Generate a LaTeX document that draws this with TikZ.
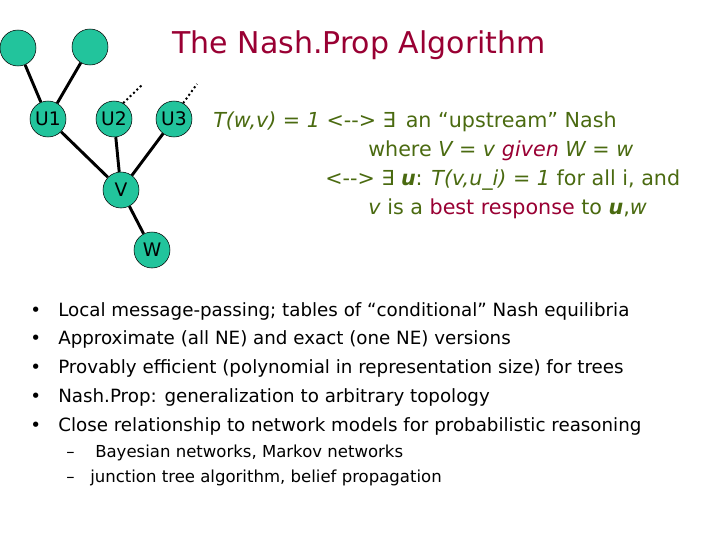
\documentclass[tikz,border=0pt]{standalone}
\usepackage{fontspec}
\setmainfont{DejaVu Sans}
\begin{document}
\begin{tikzpicture}[x=0.75pt,y=-0.75pt,
  nd/.style={circle,draw=black,fill=nodeg,minimum size=27pt,inner sep=0pt,font=\fontsize{14}{16}\selectfont},
  ed/.style={line width=2.2pt},
  dt/.style={line width=1.5pt,dotted},
  gt/.style={anchor=base west,text=txtg,font=\fontsize{15.5}{18}\selectfont,inner sep=0pt},
  bt/.style={anchor=base west,font=\fontsize{13.7}{16}\selectfont,inner sep=0pt},
  st/.style={anchor=base west,font=\fontsize{12.4}{14}\selectfont,inner sep=0pt}]
\definecolor{nodeg}{HTML}{22C49C}
\definecolor{txtg}{HTML}{4A6A10}
\definecolor{dred}{HTML}{990033}
\useasboundingbox (0,0) rectangle (720,540);
\node[nd] (a) at (18,48) {};
\node[nd] (b) at (90,47) {};
\node[nd] (u1) at (48,119) {U1};
\node[nd] (u2) at (114,119) {U2};
\node[nd] (u3) at (174,119) {U3};
\node[nd] (v) at (121,190) {V};
\node[nd] (w) at (152,250) {W};
\draw[ed] (a) -- (u1); \draw[ed] (b) -- (u1);
\draw[ed] (u1) -- (v); \draw[ed] (u2) -- (v); \draw[ed] (u3) -- (v); \draw[ed] (v) -- (w);
\coordinate (d2) at (143,84); \coordinate (d3) at (197,84);
\draw[dt] (u2.60) -- (d2); \draw[dt] (u3.60) -- (d3);
\node[text=dred,font=\fontsize{22.5}{26}\selectfont] (title) at (359,45) {The Nash.Prop Algorithm};
\node[gt] (l1) at (213,127) {\textit{T(w,v) = 1} <-{}-{}> ∃ \,an “upstream” Nash};
\node[gt] (l2) at (368,156) {where \textit{V = v} \textcolor{dred}{\textit{given}} \textit{W = w}};
\node[gt] (l3) at (325,185) {<-{}-{}> ∃ \textbf{\textit{u}}: \textit{T(v,u\_i) = 1} for all i, and};
\node[gt] (l4) at (368,214) {\textit{v} is a \textcolor{dred}{best response} to \textbf{\textit{u}},\textit{w}};
\foreach \y/\t [count=\i] in {316/Local message-passing; tables of “conditional” Nash equilibria,
  344/Approximate (all NE) and exact (one NE) versions,
  373/Provably efficient (polynomial in representation size) for trees,
  402/Nash.Prop: generalization to arbitrary topology,
  431/Close relationship to network models for probabilistic reasoning}{
  \node[bt] (m\i) at (30,\y) {•};
  \node[bt] (t\i) at (58,\y) {\t};
}
\node[st] (s1) at (66,457) {–};
\node[st] (r1) at (95,457) {Bayesian networks, Markov networks};
\node[st] (s2) at (66,482) {–};
\node[st] (r2) at (90,482) {junction tree algorithm, belief propagation};
\end{tikzpicture}
\end{document}
